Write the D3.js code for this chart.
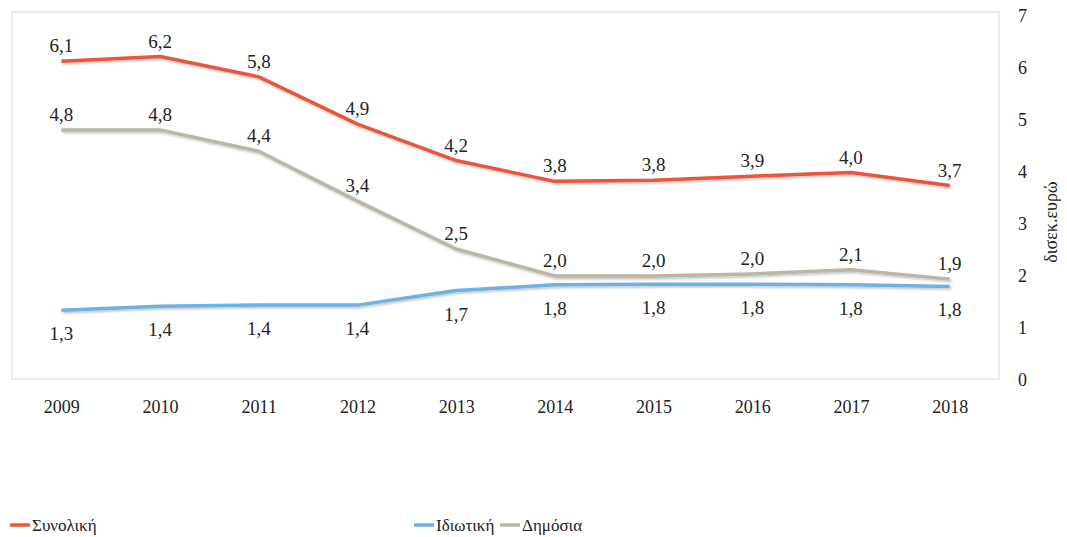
<!DOCTYPE html>
<html>
<head>
<meta charset="utf-8">
<script src="https://cdnjs.cloudflare.com/ajax/libs/d3/7.8.5/d3.min.js"></script>
<style>
  body { margin: 0; background: #fff; }
  #vis svg, #vis svg text { font-family: "Liberation Serif", serif !important; }
</style>
</head>
<body>
<div id="vis"></div>
<script>
var years = ["2009", "2010", "2011", "2012", "2013", "2014", "2015", "2016", "2017", "2018"];
var total = [6.13, 6.22, 5.83, 4.92, 4.22, 3.82, 3.84, 3.92, 3.99, 3.74];
var publicSpend = [4.81, 4.81, 4.40, 3.44, 2.52, 2.00, 2.00, 2.04, 2.12, 1.94];
var privateSpend = [1.34, 1.42, 1.44, 1.44, 1.72, 1.83, 1.84, 1.84, 1.83, 1.80];
var yTicks = [0, 1, 2, 3, 4, 5, 6, 7];
var axisTitle = "δισεκ.ευρώ";

var w = 1067, h = 537;
var plot = {x0: 12, x1: 999, y0: 12, y1: 379};

var svg = d3.select("#vis").append("svg")
    .attr("width", w).attr("height", h)
    .attr("viewBox", [0, 0, w, h]);

var x = d3.scalePoint().domain(years).range([plot.x0, plot.x1]).padding(0.5);
var y = d3.scaleLinear().domain([0, 7]).range([380, 16]);

// drop shadow like the original
var defs = svg.append("defs");
var f = defs.append("filter").attr("id", "shadow").attr("x", "-5%").attr("y", "-20%")
    .attr("width", "110%").attr("height", "140%");
f.append("feDropShadow").attr("dx", 1.5).attr("dy", 1.5).attr("stdDeviation", 1)
    .attr("flood-color", "#000").attr("flood-opacity", 0.25);

svg.append("rect")
    .attr("x", plot.x0).attr("y", plot.y0)
    .attr("width", plot.x1 - plot.x0).attr("height", plot.y1 - plot.y0)
    .attr("fill", "none").attr("stroke", "#d9d9d9").attr("stroke-width", 1);

// right axis
var yAxis = svg.append("g").attr("transform", "translate(1018,0)")
    .call(d3.axisRight(y).tickValues(yTicks).tickFormat(d3.format("d")).tickSize(0).tickPadding(0));
yAxis.select(".domain").remove();
yAxis.selectAll("text").attr("font-size", 18).attr("fill", "#222");

svg.append("text")
    .attr("transform", "translate(1051,222) rotate(-90)")
    .attr("text-anchor", "middle").attr("dy", "0.35em")
    .attr("font-size", 18).attr("fill", "#222")
    .text(axisTitle);

// bottom axis labels
var xAxis = svg.append("g").attr("transform", "translate(0,400)")
    .call(d3.axisBottom(x).tickSize(0).tickPadding(0));
xAxis.select(".domain").remove();
xAxis.selectAll("text").attr("font-size", 18).attr("fill", "#222");

var series = [
    {name: "Συνολική", values: total, color: "#E8573A", off: -9},
    {name: "Δημόσια", values: publicSpend, color: "#BCB6A6", off: -9},
    {name: "Ιδιωτική", values: privateSpend, color: "#6DB3E2", off: 30}
];

var line = d3.line().x((d, i) => x(years[i])).y(d => y(d));
var fmt = d3.format(".1f");

series.slice().reverse().forEach(s => {
    svg.append("path")
        .datum(s.values)
        .attr("d", line)
        .attr("fill", "none")
        .attr("stroke", s.color)
        .attr("stroke-width", 3.5)
        .attr("stroke-linejoin", "round")
        .attr("filter", "url(#shadow)");
});

series.forEach(s => {
    svg.append("g").selectAll("text")
        .data(s.values)
        .join("text")
        .attr("x", (d, i) => x(years[i]))
        .attr("y", d => y(d) + s.off)
        .attr("text-anchor", "middle")
        .attr("font-size", 19).attr("fill", "#222")
        .text(d => fmt(d).replace(".", ","));
});

// legend
var legendItems = [
    {name: "Συνολική", color: "#E8573A", x: 10},
    {name: "Ιδιωτική", color: "#6DB3E2", x: 414},
    {name: "Δημόσια", color: "#BCB6A6", x: 500}
];
var lg = svg.append("g").selectAll("g").data(legendItems).join("g")
    .attr("transform", d => `translate(${d.x},525)`);
lg.append("line").attr("x1", 0).attr("x2", 20).attr("y1", 0).attr("y2", 0)
    .attr("stroke", d => d.color).attr("stroke-width", 3.5);
lg.append("text").attr("x", 22).attr("dy", "0.35em")
    .attr("font-size", 17).attr("fill", "#222")
    .text(d => d.name);
</script>
</body>
</html>
